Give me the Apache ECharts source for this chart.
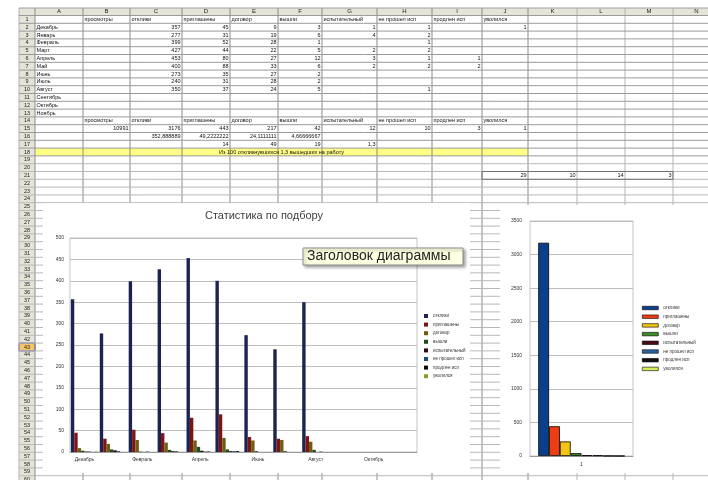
<!DOCTYPE html>
<html><head><meta charset="utf-8">
<script src="https://cdn.jsdelivr.net/npm/echarts@6/dist/echarts.min.js"></script>
<style>html,body{margin:0;padding:0;background:#fff}#c{width:708px;height:480px}</style>
</head><body><div id="c"></div>
<script>
// ---------- data ----------
const months = ['Декабрь','Январь','Февраль','Март','Апрель','Май','Июнь','Июль','Август','Сентябрь','Октябрь','Ноябрь'];
const seriesNames = ['отклики','приглашены','договор','вышли','испытательный','не прошел исп','продлен исп','уволился'];
const sheetHeaders = ['просмотры','отклики','приглашены','договор','вышли','испытательный','не прошел исп','продлен исп','уволился'];
const otkliki     = [357,277,399,427,453,400,273,240,350,null,null,null];
const priglasheny = [45,31,52,44,80,88,35,31,37,null,null,null];
const dogovor     = [9,19,28,22,27,33,27,28,24,null,null,null];
const vyshli      = [3,6,1,5,12,6,2,2,5,null,null,null];
const ispytatelny = [1,4,null,2,3,2,null,null,null,null,null,null];
const neProshel   = [1,2,1,2,1,2,null,null,1,null,null,null];
const prodlen     = [null,null,null,null,1,2,null,null,null,null,null,null];
const uvolilsya   = [1,null,null,null,null,null,null,null,null,null,null,null];
const prosmotryTotal = '10991';
const totals = [3176,443,217,42,12,10,3,1];
const averages = ['352,888889','49,2222222','24,1111111','4,66666667'];
const shares = ['14','49','19','1,3'];
const conclusion = 'Из 100 откликнувшихся 1,3 вышедших на работу';
const extraRow = ['29','10','14','3'];
const totalCategory = ['1'];
const chartTitle = 'Статистика по подбору';
const hintText = 'Заголовок диаграммы';
const colLetters = ['A','B','C','D','E','F','G','H','I','J','K','L','M','N'];

const monthly = [otkliki,priglasheny,dogovor,vyshli,ispytatelny,neProshel,prodlen,uvolilsya];

// ---------- styles / layout ----------
const FONT = 'Liberation Sans, Arial, sans-serif';
const leftColors  = ['#1c2350','#7e1414','#6e5c12','#1e4a1e','#2c0c0c','#1f4c76','#0a0a0a','#8c9a2e'];
const rightColors = ['#0b3f8c','#f03c14','#f2c414','#3a8c28','#4a0a14','#2a64a4','#101010','#d2ec5a'];
const COLS = [19,35,83,130,182,230,278,322,377,432,482,528,577,625,673,720];
const HDR_TOP = 8, ROW_TOP = 15.5, ROW_H = 7.8, NROWS = 60;
const rowY = r => ROW_TOP + (r-1)*ROW_H;

const G = [];
G.push({type:'rect', z:-20, shape:{x:19,y:HDR_TOP,width:700,height:ROW_TOP-HDR_TOP}, style:{fill:'#e6e3d8'}});
G.push({type:'rect', z:-20, shape:{x:19,y:ROW_TOP,width:16,height:480-ROW_TOP}, style:{fill:'#e6e3d8'}});
G.push({type:'rect', z:-18, shape:{x:19,y:rowY(43),width:16,height:ROW_H}, style:{fill:'#f6c46a',stroke:'#4a4a9a',lineWidth:1}});
G.push({type:'rect', z:-19, shape:{x:35,y:rowY(18),width:COLS[11]-35,height:ROW_H}, style:{fill:'#ffff88'}});
COLS.forEach((x,i)=>{
  G.push({type:'line', z:-17, shape:{x1:x,y1:HDR_TOP,x2:x,y2:480}, style:{stroke: (i>=1 && i<=11)?'#8a8a8a':'#b4b4b4', lineWidth:1}});
});
G.push({type:'line', z:-17, shape:{x1:19,y1:HDR_TOP,x2:708,y2:HDR_TOP}, style:{stroke:'#a0a0a0',lineWidth:1}});
for (let r=1; r<=NROWS; r++){
  const y = rowY(r);
  G.push({type:'line', z:-17, shape:{x1:19,y1:y,x2:708,y2:y}, style:{stroke: r<=19?'#9a9a9a':'#b8b8b8', lineWidth:1}});
}
G.push({type:'rect', z:-16, shape:{x:COLS[10],y:rowY(21),width:COLS[14]-COLS[10],height:ROW_H}, style:{fill:null,stroke:'#707070',lineWidth:1}});
colLetters.forEach((t,i)=>{
  G.push({type:'text', z:-15, x:(COLS[i+1]+COLS[i+2])/2, y:(HDR_TOP+ROW_TOP)/2, style:{text:t,fontSize:6,fontFamily:FONT,fill:'#222',align:'center',verticalAlign:'middle'}});
});
for (let r=1; r<=NROWS; r++){
  G.push({type:'text', z:-15, x:27, y:rowY(r)+ROW_H/2, style:{text:String(r),fontSize:5.5,fontFamily:FONT,fill:'#222',align:'center',verticalAlign:'middle'}});
}
function cell(col,row,text,align){
  if (text===null || text===undefined || text==='') return;
  const x0 = COLS[col], x1 = COLS[col+1];
  G.push({type:'text', z:-14, x: align==='right'? x1-1.5 : x0+1.5, y: rowY(row)+ROW_H/2,
    style:{text:String(text),fontSize:5.5,fontFamily:FONT,fill:'#111',align:align||'left',verticalAlign:'middle',
      width:x1-x0-2,overflow:'truncate',ellipsis:''}});
}
sheetHeaders.forEach((h,i)=>{ cell(i+2,1,h,'left'); cell(i+2,14,h,'left'); });
months.forEach((m,r)=>{
  cell(1,r+2,m,'left');
  monthly.forEach((arr,k)=>cell(k+3,r+2,arr[r],'right'));
});
cell(2,15,prosmotryTotal,'right');
totals.forEach((v,k)=>cell(k+3,15,v,'right'));
averages.forEach((v,k)=>cell(k+3,16,v,'right'));
shares.forEach((v,k)=>cell(k+4,17,v,'right'));
extraRow.forEach((v,k)=>cell(k+10,21,v,'right'));
G.push({type:'text', z:-14, x:(35+COLS[11])/2, y:rowY(18)+ROW_H/2, style:{text:conclusion,fontSize:5.5,fontFamily:FONT,fill:'#111',align:'center',verticalAlign:'middle'}});
G.push({type:'rect', z:-5, shape:{x:43,y:203,width:427,height:270}, style:{fill:'#fff'}});
G.push({type:'rect', z:-5, shape:{x:500,y:205,width:208,height:268}, style:{fill:'#fff'}});
G.push({type:'text', z:5, x:264, y:216, style:{text:chartTitle,fontSize:11,fontFamily:FONT,fill:'#404040',align:'center',verticalAlign:'middle'}});
G.push({type:'rect', z:50, shape:{x:303,y:248,width:160,height:17}, style:{fill:'#ffffe1',stroke:'#8a8a8a',lineWidth:1,shadowBlur:3,shadowColor:'rgba(0,0,0,0.35)',shadowOffsetX:2,shadowOffsetY:2}});
G.push({type:'text', z:51, x:307, y:256.5, style:{text:hintText,fontSize:14,fontFamily:FONT,fill:'#222',align:'left',verticalAlign:'middle'}});

const axisLbl = {fontSize:5,fontFamily:FONT,color:'#333'};
const plainNum = v => String(v);
const option = {
  animation:false,
  backgroundColor:'#fff',
  graphic:{elements:G},
  grid:[
    {left:70,top:238,width:347,height:214,show:true,borderColor:'#c4c4c4',borderWidth:1,backgroundColor:'transparent',containLabel:false},
    {left:530,top:221,width:103,height:235,show:true,borderColor:'#c4c4c4',borderWidth:1,backgroundColor:'transparent',containLabel:false}
  ],
  xAxis:[
    {type:'category',gridIndex:0,data:months,axisTick:{show:false},axisLine:{lineStyle:{color:'#9a9a9a'}},
      axisLabel:Object.assign({interval:1,margin:5},axisLbl)},
    {type:'category',gridIndex:1,data:totalCategory,axisTick:{show:false},axisLine:{lineStyle:{color:'#9a9a9a'}},
      axisLabel:Object.assign({margin:6},axisLbl)}
  ],
  yAxis:[
    {type:'value',gridIndex:0,min:0,max:500,interval:50,axisLine:{show:false},axisTick:{show:false},
      splitLine:{lineStyle:{color:'#bdbdbd',width:1}},axisLabel:Object.assign({margin:6,formatter:plainNum},axisLbl)},
    {type:'value',gridIndex:1,min:0,max:3500,interval:500,axisLine:{show:false},axisTick:{show:false},
      splitLine:{lineStyle:{color:'#bdbdbd',width:1}},axisLabel:Object.assign({margin:8,formatter:plainNum},axisLbl)}
  ],
  legend:[
    {selectedMode:false,orient:'vertical',left:424,top:313,padding:0,itemWidth:4,itemHeight:4,itemGap:2.6,icon:'rect',
      textStyle:{fontSize:4.5,lineHeight:6,fontFamily:FONT,color:'#333'},
      data:seriesNames.map((n,i)=>({name:n,itemStyle:{color:leftColors[i],borderWidth:0}}))},
    {selectedMode:false,orient:'vertical',left:642,top:305,padding:0,itemWidth:16,itemHeight:3.5,itemGap:2.7,icon:'rect',
      textStyle:{fontSize:4.5,lineHeight:6,fontFamily:FONT,color:'#333'},
      data:seriesNames.map((n,i)=>({name:n,itemStyle:{color:rightColors[i],borderColor:'#000',borderWidth:0.6}}))}
  ],
  series:[
    ...seriesNames.map((n,i)=>({type:'bar',name:n,xAxisIndex:0,yAxisIndex:0,data:monthly[i],
      barGap:'0%',barCategoryGap:'6%',itemStyle:{color:leftColors[i]}})),
    ...seriesNames.map((n,i)=>({type:'bar',name:n,xAxisIndex:1,yAxisIndex:1,data:[totals[i]],
      barGap:'0%',barCategoryGap:'16%',itemStyle:{color:rightColors[i],borderColor:'#000',borderWidth:0.8}}))
  ]
};
const chart = echarts.init(document.getElementById('c'),null,{renderer:'canvas'});
chart.setOption(option);
</script>
</body></html>
